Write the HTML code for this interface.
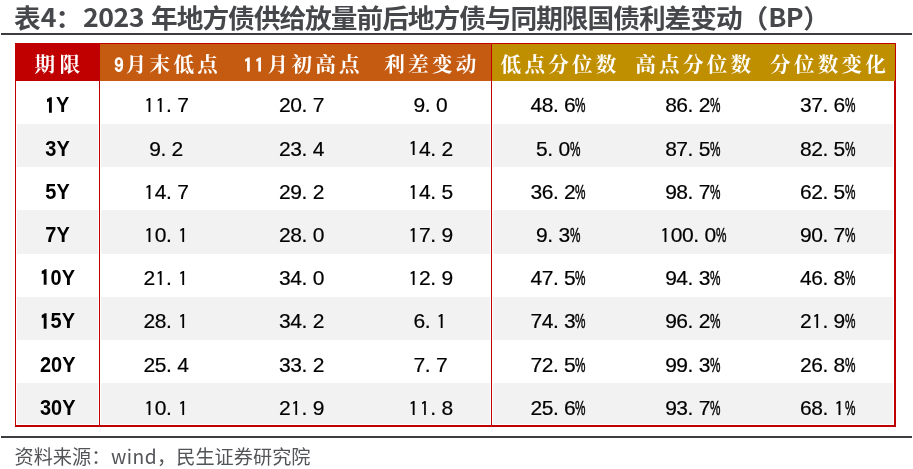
<!DOCTYPE html>
<html lang="zh"><head><meta charset="utf-8"><title>表4</title>
<style>
html,body{margin:0;padding:0;background:#fff;}
body{font-kerning:none;width:913px;height:469px;position:relative;overflow:hidden;font-family:"Liberation Sans","Noto Sans CJK SC",sans-serif;}
.abs{position:absolute;}
#title{left:14px;top:-5.3px;font-size:25.7px;font-weight:bold;color:#46474a;letter-spacing:-1px;transform:scaleX(1.04);transform-origin:0 50%;white-space:nowrap;line-height:44px;height:44px;font-family:"Noto Sans CJK SC","Liberation Sans",sans-serif;}
.rule{left:1px;width:911px;height:2px;background:#3b3d40;}
#tbl{left:15px;top:43px;width:881px;height:384px;background:#c00000;}
.bg{position:absolute;}
.hd{position:absolute;top:44.3px;height:36.4px;line-height:36.4px;color:#fff;font-weight:bold;font-size:20.6px;letter-spacing:3.2px;white-space:nowrap;text-align:center;width:200px;font-family:"Liberation Sans","Noto Serif CJK SC",serif;}
.hd span{display:inline-block;margin-right:-3.2px;position:relative;top:2.4px;}
.hd em{font-style:normal;font-weight:normal;font-family:"IPAGothic","Liberation Sans",sans-serif;font-size:18.6px;-webkit-text-stroke:1px #fff;letter-spacing:2.1px;margin-right:0.2px;position:relative;top:0.5px;}
.c{position:absolute;width:200px;text-align:center;height:43.2px;line-height:43.2px;white-space:nowrap;color:#000;}
.n{font-size:21px;letter-spacing:-0.45px;-webkit-text-stroke:0.2px #000;}
.n span{position:relative;top:2.6px;display:inline-block;}
.n i{font-style:normal;display:inline-block;}
.n i.p{width:11.2px;text-align:left;letter-spacing:0;}
.n i.o{display:inline;position:relative;top:0.9px;letter-spacing:0;margin:0 0.7px;font-family:"IPAGothic","Liberation Sans",sans-serif;font-size:19.7px;}
.n i.pc{width:11.2px;letter-spacing:0;transform:scaleX(.56);transform-origin:0 50%;-webkit-text-stroke:0.5px #000;}
.y{font-size:22.2px;font-weight:bold;letter-spacing:0;}
.y span{position:relative;top:2.6px;display:inline-block;transform:scaleX(.9);transform-origin:50% 50%;}
.y i{font-style:normal;font-weight:normal;font-family:"IPAGothic","Liberation Sans",sans-serif;font-size:20.6px;-webkit-text-stroke:1.5px #000;margin:0 1.3px;position:relative;top:0.2px;}
#title span{position:relative;top:-0.8px;}
#title span.d4{margin-left:1px;}
#title span.d{letter-spacing:-0.5px;margin-left:1.9px;margin-right:1.4px;}
#title span.bp{letter-spacing:-0.6px;margin-left:1px;margin-right:0.1px;}
#src{left:14.5px;top:442px;font-size:19.2px;color:#535458;white-space:nowrap;line-height:28px;font-family:"Noto Sans CJK SC","Liberation Sans",sans-serif;}
</style></head><body>
<div id="title" class="abs">表<span class="d4">4</span>：<span class="d">2023 </span>年地方债供给放量前后地方债与同期限国债利差变动（<span class="bp">BP</span>）</div>
<div class="abs rule" style="top:33px"></div>
<div id="tbl" class="abs"></div>
<div class="bg" style="left:100px;top:44.2px;width:390.9px;height:36.55px;background:#c55a11"></div>
<div class="bg" style="left:492.2px;top:44.2px;width:402.5px;height:36.55px;background:#bf8f00"></div>
<div class="bg" style="left:16.3px;top:80.75px;width:82.6px;height:343.95px;background:#fff"></div><div class="bg" style="left:100.2px;top:80.75px;width:390.7px;height:343.95px;background:#fff"></div><div class="bg" style="left:492.2px;top:80.75px;width:401.7px;height:343.95px;background:#fff"></div>
<div class="bg" style="left:17.3px;top:124.0px;width:80.5px;height:43.2px;background:#f2f2f2"></div><div class="bg" style="left:101.3px;top:124.0px;width:388.5px;height:43.2px;background:#f2f2f2"></div><div class="bg" style="left:493.3px;top:124.0px;width:399.4px;height:43.2px;background:#f2f2f2"></div>
<div class="bg" style="left:17.3px;top:210.4px;width:80.5px;height:43.2px;background:#f2f2f2"></div><div class="bg" style="left:101.3px;top:210.4px;width:388.5px;height:43.2px;background:#f2f2f2"></div><div class="bg" style="left:493.3px;top:210.4px;width:399.4px;height:43.2px;background:#f2f2f2"></div>
<div class="bg" style="left:17.3px;top:296.8px;width:80.5px;height:43.2px;background:#f2f2f2"></div><div class="bg" style="left:101.3px;top:296.8px;width:388.5px;height:43.2px;background:#f2f2f2"></div><div class="bg" style="left:493.3px;top:296.8px;width:399.4px;height:43.2px;background:#f2f2f2"></div>
<div class="bg" style="left:17.3px;top:383.2px;width:80.5px;height:40.5px;background:#f2f2f2"></div><div class="bg" style="left:101.3px;top:383.2px;width:388.5px;height:40.5px;background:#f2f2f2"></div><div class="bg" style="left:493.3px;top:383.2px;width:399.4px;height:40.5px;background:#f2f2f2"></div>
<div class="hd" style="left:-42.7px;letter-spacing:4.6px"><span style="margin-right:-4.6px">期限</span></div>
<div class="hd" style="left:66.0px"><span><em>9</em>月末低点</span></div>
<div class="hd" style="left:201.5px"><span><em style="margin-right:1.4px">11</em>月初高点</span></div>
<div class="hd" style="left:330.3px"><span>利差变动</span></div>
<div class="hd" style="left:458.5px"><span>低点分位数</span></div>
<div class="hd" style="left:593.2px"><span>高点分位数</span></div>
<div class="hd" style="left:728.0px"><span>分位数变化</span></div>
<div class="c y" style="left:-42.7px;top:80.8px"><span><i>1</i>Y</span></div><div class="c n" style="left:66.0px;top:80.8px"><span><i class="o">1</i><i class="o">1</i><i class="p">.</i>7</span></div><div class="c n" style="left:201.5px;top:80.8px"><span>20<i class="p">.</i>7</span></div><div class="c n" style="left:330.3px;top:80.8px"><span>9<i class="p">.</i>0</span></div><div class="c n" style="left:458.5px;top:80.8px"><span>48<i class="p">.</i>6<i class="pc">%</i></span></div><div class="c n" style="left:593.2px;top:80.8px"><span>86<i class="p">.</i>2<i class="pc">%</i></span></div><div class="c n" style="left:728.0px;top:80.8px"><span>37<i class="p">.</i>6<i class="pc">%</i></span></div>
<div class="c y" style="left:-42.7px;top:124.0px"><span>3Y</span></div><div class="c n" style="left:66.0px;top:124.0px"><span>9<i class="p">.</i>2</span></div><div class="c n" style="left:201.5px;top:124.0px"><span>23<i class="p">.</i>4</span></div><div class="c n" style="left:330.3px;top:124.0px"><span><i class="o">1</i>4<i class="p">.</i>2</span></div><div class="c n" style="left:458.5px;top:124.0px"><span>5<i class="p">.</i>0<i class="pc">%</i></span></div><div class="c n" style="left:593.2px;top:124.0px"><span>87<i class="p">.</i>5<i class="pc">%</i></span></div><div class="c n" style="left:728.0px;top:124.0px"><span>82<i class="p">.</i>5<i class="pc">%</i></span></div>
<div class="c y" style="left:-42.7px;top:167.2px"><span>5Y</span></div><div class="c n" style="left:66.0px;top:167.2px"><span><i class="o">1</i>4<i class="p">.</i>7</span></div><div class="c n" style="left:201.5px;top:167.2px"><span>29<i class="p">.</i>2</span></div><div class="c n" style="left:330.3px;top:167.2px"><span><i class="o">1</i>4<i class="p">.</i>5</span></div><div class="c n" style="left:458.5px;top:167.2px"><span>36<i class="p">.</i>2<i class="pc">%</i></span></div><div class="c n" style="left:593.2px;top:167.2px"><span>98<i class="p">.</i>7<i class="pc">%</i></span></div><div class="c n" style="left:728.0px;top:167.2px"><span>62<i class="p">.</i>5<i class="pc">%</i></span></div>
<div class="c y" style="left:-42.7px;top:210.4px"><span>7Y</span></div><div class="c n" style="left:66.0px;top:210.4px"><span><i class="o">1</i>0<i class="p">.</i><i class="o">1</i></span></div><div class="c n" style="left:201.5px;top:210.4px"><span>28<i class="p">.</i>0</span></div><div class="c n" style="left:330.3px;top:210.4px"><span><i class="o">1</i>7<i class="p">.</i>9</span></div><div class="c n" style="left:458.5px;top:210.4px"><span>9<i class="p">.</i>3<i class="pc">%</i></span></div><div class="c n" style="left:593.2px;top:210.4px"><span><i class="o">1</i>00<i class="p">.</i>0<i class="pc">%</i></span></div><div class="c n" style="left:728.0px;top:210.4px"><span>90<i class="p">.</i>7<i class="pc">%</i></span></div>
<div class="c y" style="left:-42.7px;top:253.6px"><span><i>1</i>0Y</span></div><div class="c n" style="left:66.0px;top:253.6px"><span>2<i class="o">1</i><i class="p">.</i><i class="o">1</i></span></div><div class="c n" style="left:201.5px;top:253.6px"><span>34<i class="p">.</i>0</span></div><div class="c n" style="left:330.3px;top:253.6px"><span><i class="o">1</i>2<i class="p">.</i>9</span></div><div class="c n" style="left:458.5px;top:253.6px"><span>47<i class="p">.</i>5<i class="pc">%</i></span></div><div class="c n" style="left:593.2px;top:253.6px"><span>94<i class="p">.</i>3<i class="pc">%</i></span></div><div class="c n" style="left:728.0px;top:253.6px"><span>46<i class="p">.</i>8<i class="pc">%</i></span></div>
<div class="c y" style="left:-42.7px;top:296.8px"><span><i>1</i>5Y</span></div><div class="c n" style="left:66.0px;top:296.8px"><span>28<i class="p">.</i><i class="o">1</i></span></div><div class="c n" style="left:201.5px;top:296.8px"><span>34<i class="p">.</i>2</span></div><div class="c n" style="left:330.3px;top:296.8px"><span>6<i class="p">.</i><i class="o">1</i></span></div><div class="c n" style="left:458.5px;top:296.8px"><span>74<i class="p">.</i>3<i class="pc">%</i></span></div><div class="c n" style="left:593.2px;top:296.8px"><span>96<i class="p">.</i>2<i class="pc">%</i></span></div><div class="c n" style="left:728.0px;top:296.8px"><span>2<i class="o">1</i><i class="p">.</i>9<i class="pc">%</i></span></div>
<div class="c y" style="left:-42.7px;top:340.0px"><span>20Y</span></div><div class="c n" style="left:66.0px;top:340.0px"><span>25<i class="p">.</i>4</span></div><div class="c n" style="left:201.5px;top:340.0px"><span>33<i class="p">.</i>2</span></div><div class="c n" style="left:330.3px;top:340.0px"><span>7<i class="p">.</i>7</span></div><div class="c n" style="left:458.5px;top:340.0px"><span>72<i class="p">.</i>5<i class="pc">%</i></span></div><div class="c n" style="left:593.2px;top:340.0px"><span>99<i class="p">.</i>3<i class="pc">%</i></span></div><div class="c n" style="left:728.0px;top:340.0px"><span>26<i class="p">.</i>8<i class="pc">%</i></span></div>
<div class="c y" style="left:-42.7px;top:383.2px"><span>30Y</span></div><div class="c n" style="left:66.0px;top:383.2px"><span><i class="o">1</i>0<i class="p">.</i><i class="o">1</i></span></div><div class="c n" style="left:201.5px;top:383.2px"><span>2<i class="o">1</i><i class="p">.</i>9</span></div><div class="c n" style="left:330.3px;top:383.2px"><span><i class="o">1</i><i class="o">1</i><i class="p">.</i>8</span></div><div class="c n" style="left:458.5px;top:383.2px"><span>25<i class="p">.</i>6<i class="pc">%</i></span></div><div class="c n" style="left:593.2px;top:383.2px"><span>93<i class="p">.</i>7<i class="pc">%</i></span></div><div class="c n" style="left:728.0px;top:383.2px"><span>68<i class="p">.</i><i class="o">1</i><i class="pc">%</i></span></div>
<div class="abs rule" style="top:436px"></div>
<div id="src" class="abs">资料来源：<span style="letter-spacing:.45px;margin-left:.5px">wind</span>，民生证券研究院</div>
</body></html>
